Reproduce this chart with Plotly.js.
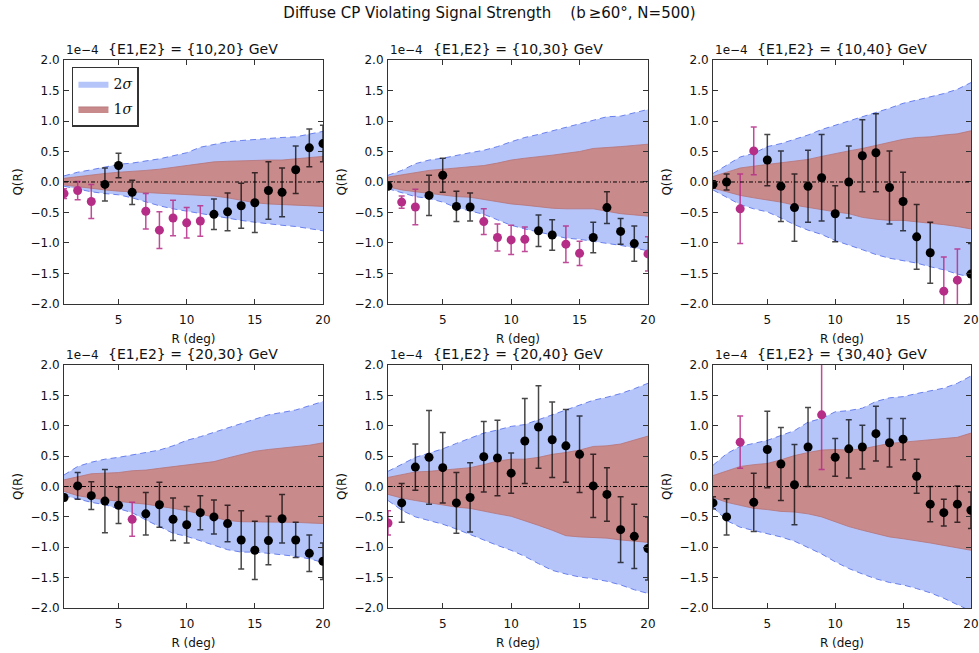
<!DOCTYPE html>
<html>
<head>
<meta charset="utf-8">
<script src="https://cdn.plot.ly/plotly-3.0.1.min.js"></script>
<style>
  html, body { margin: 0; padding: 0; background: #fff; }
  #chart { width: 979px; height: 653px; }
</style>
</head>
<body>
<div id="chart"></div>
<script>
// Angular radius R (deg)
const R = [1, 2, 3, 4, 5, 6, 7, 8, 9, 10, 11, 12, 13, 14, 15, 16, 17, 18, 19, 20];

// Energy bins {E1,E2} in GeV
const binLabels = ['{10,20}', '{10,30}', '{10,40}', '{20,30}', '{20,40}', '{30,40}'];

// Q(R) in units of 1e-4, with 1-sigma errors
const qA = [-0.19, -0.14, -0.32, -0.04, 0.27, -0.17, -0.48, -0.79, -0.59, -0.67, -0.64, -0.53, -0.49, -0.39, -0.34, -0.14, -0.17, 0.20, 0.56, 0.63];
const eA = [0.08, 0.15, 0.28, 0.27, 0.20, 0.20, 0.29, 0.30, 0.29, 0.25, 0.25, 0.25, 0.31, 0.37, 0.49, 0.47, 0.40, 0.39, 0.31, 0.30];
const qB = [-0.07, -0.33, -0.41, -0.22, 0.11, -0.40, -0.41, -0.65, -0.91, -0.95, -0.94, -0.80, -0.87, -1.02, -1.17, -0.91, -0.42, -0.81, -1.01, -1.18];
const eB = [0.05, 0.10, 0.29, 0.33, 0.28, 0.25, 0.23, 0.21, 0.22, 0.24, 0.20, 0.26, 0.25, 0.30, 0.20, 0.25, 0.26, 0.21, 0.29, 0.28];
const qC = [-0.04, 0.00, -0.44, 0.51, 0.36, -0.07, -0.42, -0.07, 0.07, -0.52, 0.00, 0.43, 0.48, -0.09, -0.32, -0.90, -1.16, -1.79, -1.61, -1.51];
const eC = [0.06, 0.13, 0.57, 0.39, 0.42, 0.58, 0.55, 0.59, 0.71, 0.46, 0.59, 0.59, 0.64, 0.60, 0.48, 0.53, 0.50, 0.56, 0.51, 0.50];
const qD = [-0.18, 0.01, -0.15, -0.24, -0.31, -0.54, -0.45, -0.30, -0.54, -0.63, -0.43, -0.50, -0.61, -0.88, -1.05, -0.89, -0.53, -0.88, -1.10, -1.23];
const eD = [0.05, 0.22, 0.23, 0.52, 0.30, 0.28, 0.35, 0.37, 0.35, 0.30, 0.28, 0.28, 0.30, 0.48, 0.48, 0.40, 0.40, 0.29, 0.30, 0.30];
const qE = [-0.60, -0.27, 0.32, 0.48, 0.31, -0.27, -0.18, 0.49, 0.47, 0.22, 0.75, 0.98, 0.77, 0.67, 0.53, 0.01, -0.13, -0.71, -0.82, -1.02];
const eE = [0.20, 0.32, 0.38, 0.77, 0.58, 0.50, 0.57, 0.58, 0.62, 0.33, 0.70, 0.68, 0.62, 0.60, 0.63, 0.52, 0.44, 0.54, 0.53, 0.52];
const qF = [-0.27, -0.50, 0.73, -0.26, 0.61, 0.37, 0.03, 0.65, 1.18, 0.48, 0.62, 0.65, 0.87, 0.72, 0.78, 0.17, -0.29, -0.43, -0.29, -0.39];
const eF = [0.10, 0.30, 0.43, 0.48, 0.63, 0.60, 0.66, 0.65, 0.90, 0.31, 0.48, 0.36, 0.45, 0.40, 0.34, 0.28, 0.29, 0.22, 0.30, 0.30];

// Radii whose measurement falls outside the 2-sigma envelope
const outA = [1, 2, 3, 7, 8, 9, 10, 11];
const outB = [2, 3, 8, 9, 10, 11, 14, 15, 20];
const outC = [3, 4, 18, 19];
const outD = [6];
const outE = [1];
const outF = [3, 9];

// Null-hypothesis envelopes (1e-4): 2-sigma and 1-sigma upper/lower edges
const hi2A = [0.10, 0.16, 0.20, 0.24, 0.29, 0.31, 0.34, 0.38, 0.43, 0.48, 0.57, 0.62, 0.66, 0.68, 0.70, 0.71, 0.73, 0.74, 0.78, 0.83];
const hi1A = [0.06, 0.09, 0.12, 0.14, 0.16, 0.17, 0.19, 0.21, 0.24, 0.26, 0.30, 0.33, 0.34, 0.35, 0.35, 0.36, 0.36, 0.38, 0.40, 0.42];
const lo1A = [-0.05, -0.08, -0.11, -0.13, -0.15, -0.16, -0.17, -0.18, -0.19, -0.20, -0.21, -0.23, -0.26, -0.30, -0.34, -0.36, -0.37, -0.38, -0.39, -0.40];
const lo2A = [-0.07, -0.12, -0.16, -0.19, -0.21, -0.26, -0.33, -0.39, -0.44, -0.48, -0.52, -0.56, -0.60, -0.63, -0.66, -0.69, -0.71, -0.73, -0.76, -0.80];

const hi2B = [0.11, 0.19, 0.30, 0.36, 0.39, 0.44, 0.48, 0.52, 0.58, 0.66, 0.73, 0.78, 0.84, 0.89, 0.96, 1.02, 1.07, 1.08, 1.13, 1.19];
const hi1B = [0.08, 0.12, 0.16, 0.19, 0.21, 0.23, 0.25, 0.27, 0.31, 0.36, 0.39, 0.41, 0.44, 0.47, 0.50, 0.55, 0.56, 0.58, 0.60, 0.62];
const lo1B = [-0.08, -0.13, -0.16, -0.19, -0.22, -0.24, -0.25, -0.29, -0.32, -0.36, -0.38, -0.41, -0.43, -0.44, -0.44, -0.44, -0.48, -0.52, -0.54, -0.56];
const lo2B = [-0.11, -0.18, -0.24, -0.27, -0.33, -0.42, -0.48, -0.53, -0.62, -0.71, -0.77, -0.82, -0.88, -0.92, -0.94, -0.97, -1.01, -1.04, -1.08, -1.13];

const hi2C = [0.14, 0.27, 0.41, 0.47, 0.58, 0.63, 0.70, 0.77, 0.86, 0.93, 1.00, 1.07, 1.13, 1.21, 1.29, 1.34, 1.40, 1.45, 1.52, 1.63];
const hi1C = [0.09, 0.16, 0.23, 0.26, 0.29, 0.31, 0.34, 0.37, 0.42, 0.47, 0.51, 0.55, 0.60, 0.65, 0.70, 0.73, 0.74, 0.77, 0.79, 0.84];
const lo1C = [-0.10, -0.16, -0.22, -0.26, -0.29, -0.33, -0.38, -0.42, -0.45, -0.49, -0.52, -0.58, -0.61, -0.63, -0.63, -0.65, -0.67, -0.70, -0.73, -0.77];
const lo2C = [-0.13, -0.25, -0.37, -0.44, -0.49, -0.59, -0.70, -0.79, -0.86, -0.96, -1.03, -1.11, -1.19, -1.25, -1.29, -1.33, -1.39, -1.44, -1.51, -1.56];

const hi2D = [0.19, 0.33, 0.40, 0.45, 0.48, 0.52, 0.56, 0.60, 0.67, 0.76, 0.82, 0.89, 0.96, 1.04, 1.11, 1.18, 1.22, 1.26, 1.33, 1.40];
const hi1D = [0.11, 0.16, 0.21, 0.22, 0.23, 0.26, 0.27, 0.30, 0.33, 0.36, 0.38, 0.41, 0.47, 0.52, 0.58, 0.61, 0.63, 0.65, 0.68, 0.72];
const lo1D = [-0.08, -0.15, -0.19, -0.22, -0.25, -0.27, -0.29, -0.32, -0.36, -0.40, -0.45, -0.50, -0.56, -0.58, -0.58, -0.58, -0.59, -0.59, -0.60, -0.61];
const lo2D = [-0.15, -0.21, -0.26, -0.30, -0.36, -0.43, -0.55, -0.66, -0.77, -0.82, -0.89, -0.96, -1.04, -1.08, -1.08, -1.10, -1.12, -1.15, -1.19, -1.25];

const hi2E = [0.25, 0.37, 0.48, 0.55, 0.62, 0.71, 0.80, 0.88, 0.93, 0.99, 1.02, 1.10, 1.18, 1.26, 1.33, 1.42, 1.47, 1.53, 1.61, 1.70];
const hi1E = [0.15, 0.20, 0.24, 0.25, 0.27, 0.28, 0.31, 0.36, 0.42, 0.45, 0.45, 0.48, 0.53, 0.56, 0.60, 0.66, 0.67, 0.70, 0.76, 0.83];
const lo1E = [-0.13, -0.19, -0.23, -0.27, -0.31, -0.34, -0.36, -0.41, -0.45, -0.49, -0.56, -0.64, -0.72, -0.81, -0.83, -0.84, -0.85, -0.88, -0.90, -0.92];
const lo2E = [-0.23, -0.39, -0.50, -0.56, -0.62, -0.70, -0.79, -0.89, -0.97, -1.05, -1.15, -1.27, -1.38, -1.44, -1.49, -1.52, -1.56, -1.62, -1.70, -1.76];

const hi2F = [0.35, 0.54, 0.66, 0.71, 0.76, 0.84, 0.92, 1.06, 1.12, 1.23, 1.25, 1.29, 1.40, 1.46, 1.48, 1.53, 1.58, 1.62, 1.70, 1.82];
const hi1F = [0.18, 0.26, 0.33, 0.36, 0.38, 0.44, 0.51, 0.56, 0.60, 0.61, 0.60, 0.62, 0.67, 0.71, 0.73, 0.75, 0.77, 0.78, 0.81, 0.88];
const lo1F = [-0.18, -0.26, -0.31, -0.36, -0.38, -0.41, -0.42, -0.45, -0.50, -0.58, -0.66, -0.72, -0.78, -0.83, -0.86, -0.89, -0.93, -0.97, -1.01, -1.05];
const lo2F = [-0.34, -0.56, -0.67, -0.72, -0.78, -0.83, -0.90, -1.00, -1.11, -1.24, -1.35, -1.44, -1.52, -1.58, -1.62, -1.68, -1.75, -1.84, -1.95, -2.05];

// Axis ticks
const xTicks = [5, 10, 15, 20];
const yTicks = [-2.0, -1.5, -1.0, -0.5, 0.0, 0.5, 1.0, 1.5, 2.0];

const panels = [
  { bin: binLabels[0], q: qA, err: eA, out: outA, hi2: hi2A, hi1: hi1A, lo1: lo1A, lo2: lo2A },
  { bin: binLabels[1], q: qB, err: eB, out: outB, hi2: hi2B, hi1: hi1B, lo1: lo1B, lo2: lo2B },
  { bin: binLabels[2], q: qC, err: eC, out: outC, hi2: hi2C, hi1: hi1C, lo1: lo1C, lo2: lo2C },
  { bin: binLabels[3], q: qD, err: eD, out: outD, hi2: hi2D, hi1: hi1D, lo1: lo1D, lo2: lo2D },
  { bin: binLabels[4], q: qE, err: eE, out: outE, hi2: hi2E, hi1: hi1E, lo1: lo1E, lo2: lo2E },
  { bin: binLabels[5], q: qF, err: eF, out: outF, hi2: hi2F, hi1: hi1F, lo1: lo1F, lo2: lo2F }
];

// Styling
const FONT = 'DejaVu Sans, Liberation Sans, sans-serif';
const BLUE_FILL = '#b5c5fa';
const BLUE_EDGE = '#6a80ee';
const RED_FILL = '#c98a8c';
const RED_EDGE = '#b57377';
const MAGENTA = '#b52d87';
const AXIS = '#333333';

const colDomains = [[0.0654, 0.3299], [0.3963, 0.6619], [0.7283, 0.9918]];
const rowDomains = [[0.5345, 0.9081], [0.0689, 0.4410]];

const traces = [];
const layout = {
  width: 979,
  height: 653,
  margin: { l: 0, r: 0, t: 0, b: 0 },
  paper_bgcolor: '#ffffff',
  plot_bgcolor: '#ffffff',
  font: { family: FONT, size: 12, color: '#111' },
  title: {
    text: 'Diffuse CP Violating Signal Strength\u00a0\u00a0\u00a0\u00a0(b\u2009\u226560\u00b0, N=500)',
    x: 0.5, xanchor: 'center',
    y: 1 - 13 / 653, yanchor: 'middle',
    font: { family: FONT, size: 15, color: '#111' }
  },
  showlegend: true,
  legend: {
    x: 0.0735, xanchor: 'left',
    y: 0.898, yanchor: 'top',
    bgcolor: '#ffffff',
    bordercolor: AXIS,
    borderwidth: 1.5,
    font: { family: 'DejaVu Serif, Liberation Serif, serif', size: 14, color: '#111' },
    itemwidth: 30,
    tracegroupgap: 4
  },
  shapes: [],
  annotations: []
};

panels.forEach((p, i) => {
  const n = i + 1;
  const xa = 'x' + n, ya = 'y' + n;
  const row = Math.floor(i / 3), col = i % 3;
  const first = i === 0;

  // 2-sigma band
  traces.push({
    x: R, y: p.lo2, xaxis: xa, yaxis: ya, mode: 'lines',
    line: { width: 0, color: BLUE_EDGE }, showlegend: false, hoverinfo: 'skip'
  });
  traces.push({
    x: R, y: p.hi2, xaxis: xa, yaxis: ya, mode: 'lines',
    fill: 'tonexty', fillcolor: BLUE_FILL,
    line: { width: 0, color: BLUE_EDGE },
    name: '2<i>\u03c3</i>', showlegend: first, legendgroup: 'two', hoverinfo: 'skip'
  });
  // 1-sigma band
  traces.push({
    x: R, y: p.lo1, xaxis: xa, yaxis: ya, mode: 'lines',
    line: { width: 0.8, color: RED_EDGE }, showlegend: false, hoverinfo: 'skip'
  });
  traces.push({
    x: R, y: p.hi1, xaxis: xa, yaxis: ya, mode: 'lines',
    fill: 'tonexty', fillcolor: RED_FILL,
    line: { width: 0.8, color: RED_EDGE },
    name: '1<i>\u03c3</i>', showlegend: first, legendgroup: 'one', hoverinfo: 'skip'
  });
  // dashed 2-sigma edges
  [p.lo2, p.hi2].forEach(edge => {
    traces.push({
      x: R, y: edge, xaxis: xa, yaxis: ya, mode: 'lines',
      line: { width: 1, color: BLUE_EDGE, dash: '6px,4px' },
      showlegend: false, hoverinfo: 'skip'
    });
  });

  // measurements: inside envelope (black) and outside (magenta)
  const groups = [
    { keep: r => !p.out.includes(r), color: '#000000', bar: 'rgba(0,0,0,0.72)' },
    { keep: r => p.out.includes(r), color: MAGENTA, bar: 'rgba(181,45,135,0.85)' }
  ];
  groups.forEach(g => {
    const xs = [], ys = [], es = [];
    R.forEach((r, k) => { if (g.keep(r)) { xs.push(r); ys.push(p.q[k]); es.push(p.err[k]); } });
    traces.push({
      x: xs, y: ys, xaxis: xa, yaxis: ya, mode: 'markers', type: 'scatter',
      marker: { color: g.color, size: 9, line: { width: 0 } },
      error_y: { type: 'data', array: es, visible: true, color: g.bar, thickness: 1.5, width: 3 },
      showlegend: false
    });
  });

  const axisCommon = {
    showgrid: false, zeroline: false, showline: true, linecolor: AXIS, linewidth: 1,
    mirror: 'allticks', ticks: 'inside', ticklen: 5, tickwidth: 1, tickcolor: AXIS,
    ticklabeloverflow: 'allow',
    tickfont: { family: FONT, size: 12, color: '#111' }, fixedrange: true
  };
  layout['xaxis' + n] = Object.assign({}, axisCommon, {
    domain: colDomains[col], anchor: ya, range: [0.999, 20.001],
    tickmode: 'array', tickvals: xTicks, ticktext: xTicks.map(String),
    ticklabelstandoff: 5,
    title: { text: 'R (deg)', font: { family: FONT, size: 12, color: '#111' }, standoff: 8 }
  });
  layout['yaxis' + n] = Object.assign({}, axisCommon, {
    domain: rowDomains[row], anchor: xa, range: [-2.0005, 2.0005],
    tickmode: 'array', tickvals: yTicks, tickformat: '.1f',
    ticklabelstandoff: 1,
    title: { text: 'Q(R)', font: { family: FONT, size: 12, color: '#111' }, standoff: 5 }
  });

  // zero reference line
  layout.shapes.push({
    type: 'line', xref: xa + ' domain', x0: 0, x1: 1, yref: ya, y0: 0, y1: 0,
    line: { color: '#000', width: 1, dash: '4px,2px,1px,2px' }
  });

  // panel title and axis scale factor
  layout.annotations.push({
    xref: xa + ' domain', yref: ya + ' domain', x: 0.5, y: 1, xanchor: 'center', yanchor: 'bottom',
    yshift: 1, showarrow: false, text: '{E1,E2} = ' + p.bin + ' GeV',
    font: { family: FONT, size: 14, color: '#111' }
  });
  layout.annotations.push({
    xref: xa + ' domain', yref: ya + ' domain', x: 0, y: 1, xanchor: 'left', yanchor: 'bottom',
    yshift: 1, showarrow: false, text: '1e\u22124',
    font: { family: FONT, size: 12, color: '#111' }
  });
});

Plotly.newPlot('chart', traces, layout, { staticPlot: true, displayModeBar: false });
</script>
</body>
</html>
